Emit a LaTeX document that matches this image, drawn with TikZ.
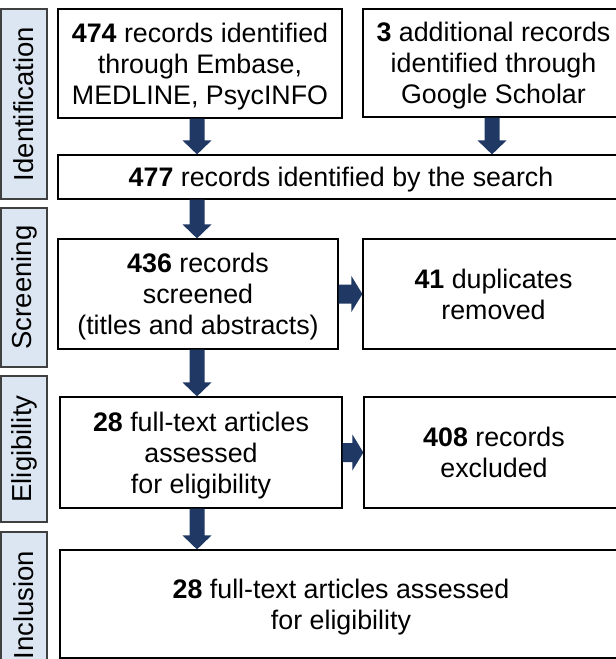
\documentclass[tikz,border=0pt]{standalone}
\usepackage{fontspec}
\setmainfont{Liberation Sans}
\newfontfamily\sidefont{Liberation Sans}
\usetikzlibrary{calc}
\definecolor{arrowc}{HTML}{1F3864}
\definecolor{sidefill}{HTML}{DCE6F2}
\definecolor{sidedraw}{HTML}{404040}
\tikzset{
  box/.style={draw=black, line width=1.2pt, fill=white, align=center, inner sep=0pt,
    text depth=0pt, font=\fontsize{26.8}{31}\selectfont},
  side/.style={draw=sidedraw, line width=1.2pt, fill=sidefill, rotate=90, inner sep=0pt,
    minimum height=46pt, font=\sidefont\fontsize{27.5}{30}\selectfont},
  arrowfill/.style={fill=arrowc}
}
\newcommand\dnarrow[3]{%
  \fill[arrowfill] ($(#1.south -| #3)+(-7.5,0)$) -- ($(#2.north -| #3)+(-7.5,-14)$)
    -- ($(#2.north -| #3)+(-14.5,-14)$) -- (#2.north -| #3)
    -- ($(#2.north -| #3)+(14.5,-14)$) -- ($(#2.north -| #3)+(7.5,-14)$)
    -- ($(#1.south -| #3)+(7.5,0)$) -- cycle;}
\newcommand\rtarrow[2]{%
  \fill[arrowfill] ($(#1.east)+(0,-9.5)$) -- ($(#2.west |- #1.east)+(-11,-9.5)$)
    -- ($(#2.west |- #1.east)+(-11,-18)$) -- (#2.west |- #1.east)
    -- ($(#2.west |- #1.east)+(-11,18)$) -- ($(#2.west |- #1.east)+(-11,9.5)$)
    -- ($(#1.east)+(0,9.5)$) -- cycle;}
\begin{document}
\begin{tikzpicture}[x=1pt,y=-1pt]
\useasboundingbox (0,0) rectangle (616,659);
\clip (0,0) rectangle (616,659);
% side labels
\node[side, minimum width=190pt] (L1) at (24,104) {Identification};
\node[side, minimum width=159pt] (L2) at (24,287.5) {Screening};
\node[side, minimum width=146pt] (L3) at (24,449) {Eligibility};
\node[side, minimum width=146pt] (L4) at (24,605) {Inclusion};
% boxes
\node[box, minimum width=284pt, minimum height=109pt] (id1) at (200,63.5)
  {\textbf{474} records identified\\through Embase,\\MEDLINE, PsycINFO};
\node[box, minimum width=261pt, minimum height=108pt] (id2) at (493.5,63)
  {\textbf{3} additional records\\identified through\\Google Scholar};
\node[box, minimum width=566pt, minimum height=44pt] (s477) at (341,177)
  {\textbf{477} records identified by the search};
\node[box, minimum width=280pt, minimum height=110pt] (scr) at (198,294)
  {\textbf{436} records\\screened\\(titles and abstracts)};
\node[box, minimum width=261pt, minimum height=110pt] (dup) at (493.5,294)
  {\textbf{41} duplicates\\removed};
\node[box, minimum width=282pt, minimum height=111pt] (elig) at (201,452.5)
  {\textbf{28} full-text articles\\assessed\\for eligibility};
\node[box, minimum width=260pt, minimum height=111pt] (excl) at (494,452.5)
  {\textbf{408} records\\excluded};
\node[box, minimum width=562pt, minimum height=108pt] (incl) at (341,604)
  {\textbf{28} full-text articles assessed\\for eligibility};
% arrows
\coordinate (axL) at (197,0);
\coordinate (axR) at (492,0);
\dnarrow{id1}{s477}{axL}
\dnarrow{id2}{s477}{axR}
\dnarrow{s477}{scr}{axL}
\dnarrow{scr}{elig}{axL}
\dnarrow{elig}{incl}{axL}
\rtarrow{scr}{dup}
\rtarrow{elig}{excl}
\end{tikzpicture}
\end{document}
